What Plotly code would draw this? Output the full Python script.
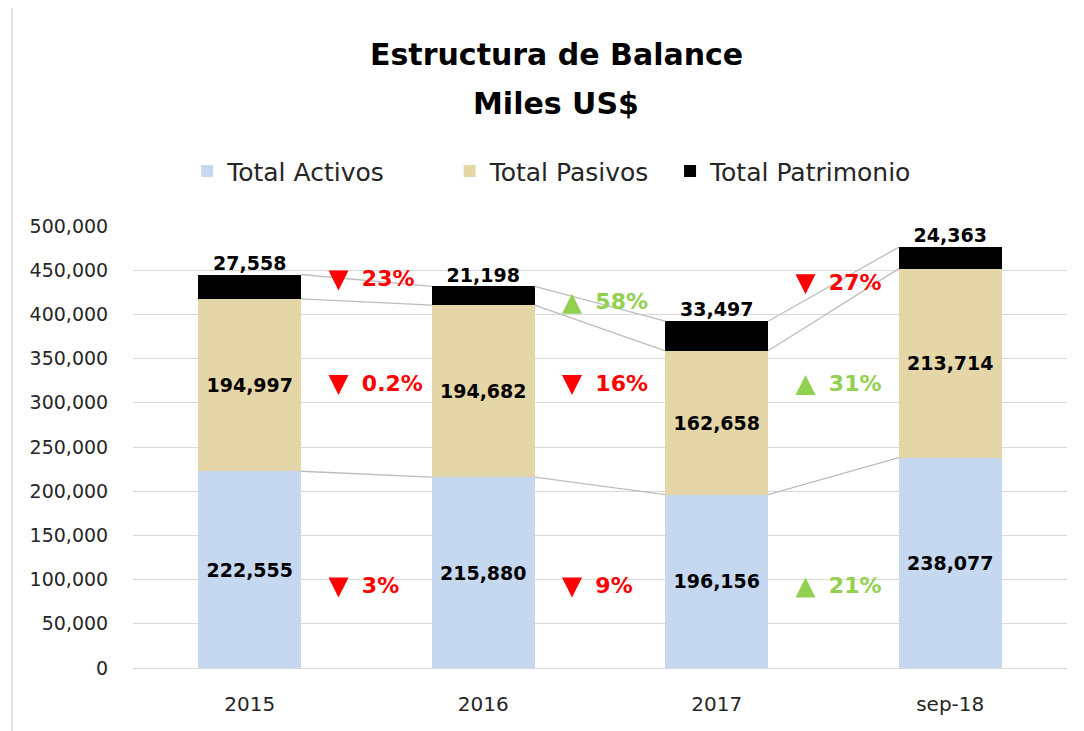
import plotly.graph_objects as go

# Datos del gráfico
periodos = ['2015', '2016', '2017', 'sep-18']
total_activos = [222555, 215880, 196156, 238077]
total_pasivos = [194997, 194682, 162658, 213714]
total_patrimonio = [27558, 21198, 33497, 24363]

series = [
    ('Total Activos', total_activos, '#C6D8F0'),
    ('Total Pasivos', total_pasivos, '#E5D6A7'),
    ('Total Patrimonio', total_patrimonio, '#000000'),
]

FUENTE = 'DejaVu Sans'
ROJO = '#FF0000'
VERDE = '#92D050'
ANCHO = 0.44
PX = 500000 / 442  # unidades del eje por píxel
x = list(range(len(periodos)))

fig = go.Figure()

# Barras apiladas (cada serie con su propia leyenda para replicar el espaciado)
leyendas = ['legend', 'legend2', 'legend3']
for (nombre, valores, color), ley in zip(series, leyendas):
    con_texto = nombre != 'Total Patrimonio'
    fig.add_trace(go.Bar(
        x=x, y=valores, name=nombre, width=ANCHO, legend=ley,
        marker=dict(color=color, line=dict(width=0)),
        text=[f'{v:,}' for v in valores] if con_texto else None,
        textposition='inside' if con_texto else 'none',
        insidetextanchor='middle',
        textangle=0,
        constraintext='none',
        textfont=dict(family=FUENTE, size=19, color='black', weight='bold'),
        hoverinfo='skip',
    ))

# Acumulados (techo de cada segmento)
techos = []
acumulado = [0] * len(periodos)
for _, valores, _ in series:
    acumulado = [a + v for a, v in zip(acumulado, valores)]
    techos.append(list(acumulado))

# Líneas de serie entre barras
lx, ly = [], []
for techo in techos:
    for i in range(len(periodos) - 1):
        lx += [i + ANCHO / 2, i + 1 - ANCHO / 2, None]
        ly += [techo[i], techo[i + 1], None]
fig.add_trace(go.Scatter(
    x=lx, y=ly, mode='lines', line=dict(color='#BDBDBD', width=1.3),
    showlegend=False, hoverinfo='skip',
))

# Etiquetas del patrimonio sobre las barras
fig.add_trace(go.Scatter(
    x=x, y=techos[-1], mode='text', text=[f'{v:,}' for v in total_patrimonio],
    textposition='top center',
    textfont=dict(family=FUENTE, size=19, color='black', weight='bold'),
    showlegend=False, hoverinfo='skip', cliponaxis=False,
))

# Variaciones entre periodos (flecha + porcentaje)
niveles = {
    'Total Activos': [91000] * 3,
    'Total Pasivos': [320000] * 3,
    'Total Patrimonio': [(techos[-1][i] + techos[-1][i + 1]) / 2 for i in range(3)],
}
for nombre, valores, _ in series:
    for i in range(len(periodos) - 1):
        var = valores[i + 1] / valores[i] - 1
        etiqueta = f'{abs(var) * 100:.1f}%' if abs(var) < 0.01 else f'{abs(var) * 100:.0f}%'
        sube = var > 0
        color = VERDE if sube else ROJO
        yv = niveles[nombre][i]
        # el símbolo "arrow" tiene la punta en el punto: se desplaza medio alto
        fig.add_trace(go.Scatter(
            x=[i + 0.5 - 0.12], y=[yv + (10 if sube else -10) * PX], mode='markers',
            marker=dict(symbol='arrow-up' if sube else 'arrow-down', size=20,
                        color=color, line=dict(width=0)),
            showlegend=False, hoverinfo='skip', cliponaxis=False,
        ))
        fig.add_trace(go.Scatter(
            x=[i + 0.5 - 0.02], y=[yv], mode='text', text=[etiqueta],
            textposition='middle right',
            textfont=dict(family=FUENTE, size=22, color=color, weight='bold'),
            showlegend=False, hoverinfo='skip', cliponaxis=False,
        ))

# Título en dos líneas
fig.add_annotation(x=0.453, y=1.387, xref='paper', yref='paper', yanchor='middle',
                   text='<b>Estructura de Balance</b>', showarrow=False,
                   font=dict(family=FUENTE, size=30, color='black'))
fig.add_annotation(x=0.453, y=1.278, xref='paper', yref='paper', yanchor='middle',
                   text='<b>Miles US$</b>', showarrow=False,
                   font=dict(family=FUENTE, size=30, color='black'))

# Borde izquierdo del área del gráfico
fig.add_shape(type='line', xref='paper', yref='paper',
              x0=-0.1296, x1=-0.1296, y0=-0.2, y1=1.6,
              line=dict(color='#D9D9D9', width=1.5))

estilo_leyenda = dict(orientation='h', y=1.124, yanchor='middle', xanchor='left',
                      font=dict(family=FUENTE, size=25, color='#262626'),
                      bgcolor='rgba(0,0,0,0)')

fig.update_layout(
    width=1084, height=731,
    margin=dict(l=125, r=25, t=218, b=71),
    paper_bgcolor='white', plot_bgcolor='white',
    barmode='stack',
    font=dict(family=FUENTE, color='#404040'),
    legend=dict(x=0.058, **estilo_leyenda),
    legend2=dict(x=0.339, **estilo_leyenda),
    legend3=dict(x=0.575, **estilo_leyenda),
    xaxis=dict(range=[-0.5, 3.5], tickvals=x, ticktext=periodos,
               showgrid=False, zeroline=False, showline=False,
               ticks='outside', ticklen=18, tickcolor='rgba(0,0,0,0)',
               tickfont=dict(family=FUENTE, size=20, color='#262626')),
    yaxis=dict(range=[0, 500000], dtick=50000, tickformat=',',
               showgrid=True, gridcolor='#D9D9D9', gridwidth=1.3,
               zeroline=True, zerolinecolor='#D9D9D9', zerolinewidth=1.3,
               showline=False,
               ticks='outside', ticklen=20, tickcolor='rgba(0,0,0,0)',
               tickfont=dict(family=FUENTE, size=19, color='#262626')),
)

fig.write_html('out.html')
